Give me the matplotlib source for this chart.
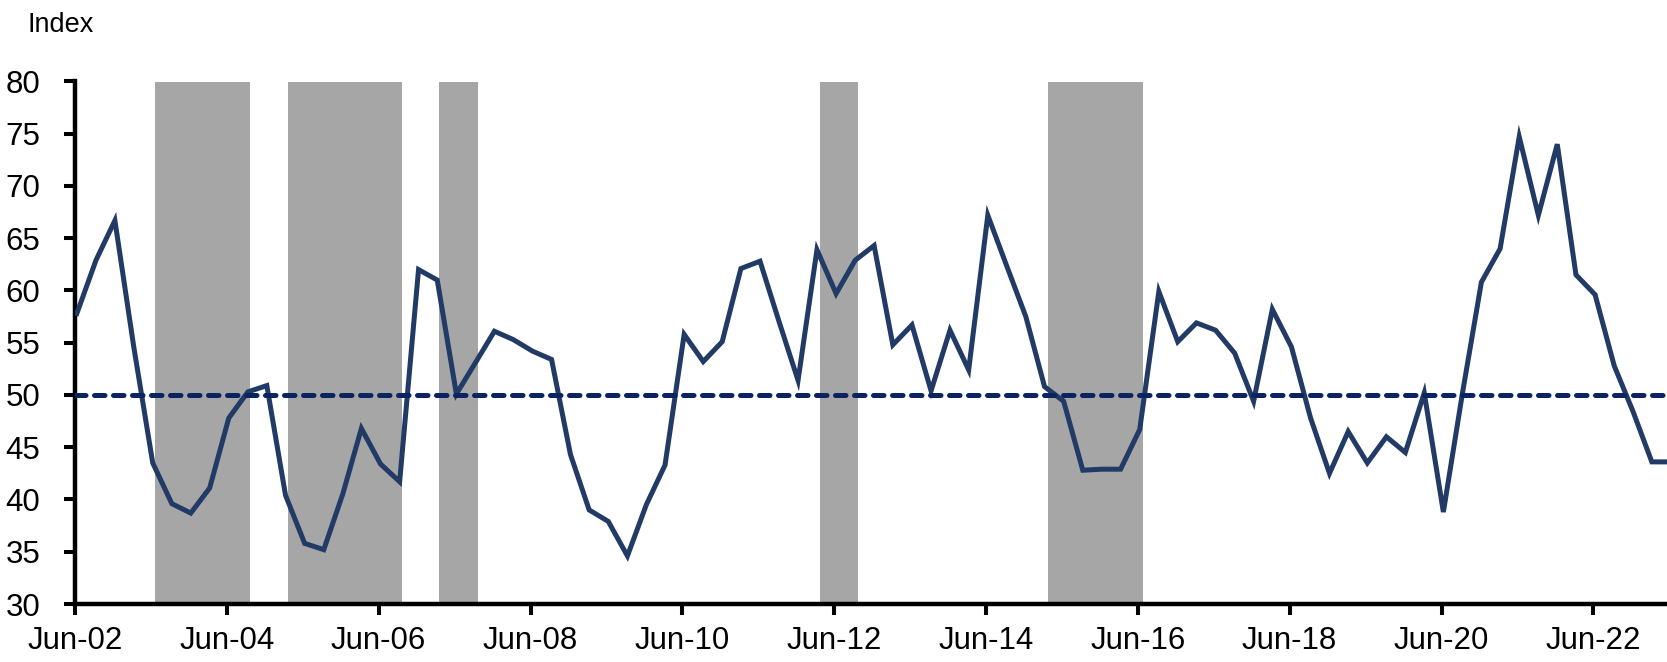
import matplotlib
matplotlib.use("Agg")
import matplotlib.pyplot as plt
import pandas as pd

plt.rcParams['font.family'] = ['Liberation Sans', 'DejaVu Sans']

# ---- data -------------------------------------------------------------
start_date = "2002-06-10"
index_values = [
    57.8, 62.9, 66.7, 54.7, 43.5, 39.6, 38.7, 41.1, 47.8, 50.3,
    50.9, 40.4, 35.8, 35.2, 40.5, 46.8, 43.4, 41.7, 62.0, 61.0,
    50.1, 53.1, 56.1, 55.3, 54.2, 53.4, 44.3, 39.0, 37.9, 34.6,
    39.5, 43.3, 55.8, 53.2, 55.1, 62.1, 62.8, 57.0, 51.4, 63.9,
    59.7, 62.9, 64.3, 54.8, 56.7, 50.4, 56.2, 52.4, 67.2, 62.3,
    57.5, 50.8, 49.4, 42.8, 42.9, 42.9, 46.7, 59.9, 55.1, 56.9,
    56.2, 54.0, 49.4, 58.2, 54.6, 47.8, 42.5, 46.5, 43.5, 46.0,
    44.5, 50.2, 38.8, 50.2, 60.8, 64.0, 74.7, 67.2, 74.0, 61.5,
    59.6, 52.8, 48.4, 43.6, 43.6,
]
shade_starts = ["2003-06-20", "2005-03-20", "2007-03-20", "2012-03-25", "2015-03-25"]
shade_ends   = ["2004-09-20", "2006-09-20", "2007-09-20", "2012-09-25", "2016-06-25"]
threshold = 50
tick_dates = ["2002-06-01", "2004-06-01", "2006-06-01", "2008-06-01", "2010-06-01",
              "2012-06-01", "2014-06-01", "2016-06-01", "2018-06-01", "2020-06-01",
              "2022-06-01"]
tick_labels = ["Jun-02", "Jun-04", "Jun-06", "Jun-08", "Jun-10", "Jun-12",
               "Jun-14", "Jun-16", "Jun-18", "Jun-20", "Jun-22"]
y_ticks = [30, 35, 40, 45, 50, 55, 60, 65, 70, 75, 80]

dates = [pd.Timestamp(start_date) + pd.DateOffset(months=3 * i)
         for i in range(len(index_values))]

# ---- figure -----------------------------------------------------------
W, H = 1667, 662
fig = plt.figure(figsize=(W / 100, H / 100), dpi=100)
ax = fig.add_axes([75 / W, 58 / H, (W - 75) / W, 522.5 / H])

for s, e in zip(shade_starts, shade_ends):
    ax.axvspan(pd.Timestamp(s), pd.Timestamp(e), color="#A6A6A6", lw=0, zorder=0)

ax.plot(dates, index_values, color="#223A66", lw=3.6, zorder=3,
        solid_joinstyle="miter")
ax.axhline(threshold, color="#0B2360", lw=3.6, zorder=4,
           dashes=(2.1, 1.7), dash_capstyle="round")

ax.set_ylim(30, 80)
ax.set_xlim(pd.Timestamp("2002-06-01"), pd.Timestamp("2023-05-22"))
ax.set_yticks(y_ticks)
ax.set_yticklabels([str(v) for v in y_ticks])
ax.set_xticks([pd.Timestamp(d) for d in tick_dates])
ax.set_xticklabels(tick_labels)

for side in ["top", "right"]:
    ax.spines[side].set_visible(False)
for side in ["left", "bottom"]:
    ax.spines[side].set_linewidth(3.2)
    ax.spines[side].set_color("black")
    ax.spines[side].set_capstyle("projecting")

ax.tick_params(axis="y", direction="out", length=8, width=2.9, pad=17,
               labelsize=22.5, colors="black")
ax.tick_params(axis="x", direction="out", length=8, width=2.9, pad=8,
               labelsize=22.5, colors="black")

fig.text(27 / W, 1 - 31.7 / H, "Index", fontsize=19.5, va="baseline", ha="left")

fig.savefig("out.png", dpi=100)
